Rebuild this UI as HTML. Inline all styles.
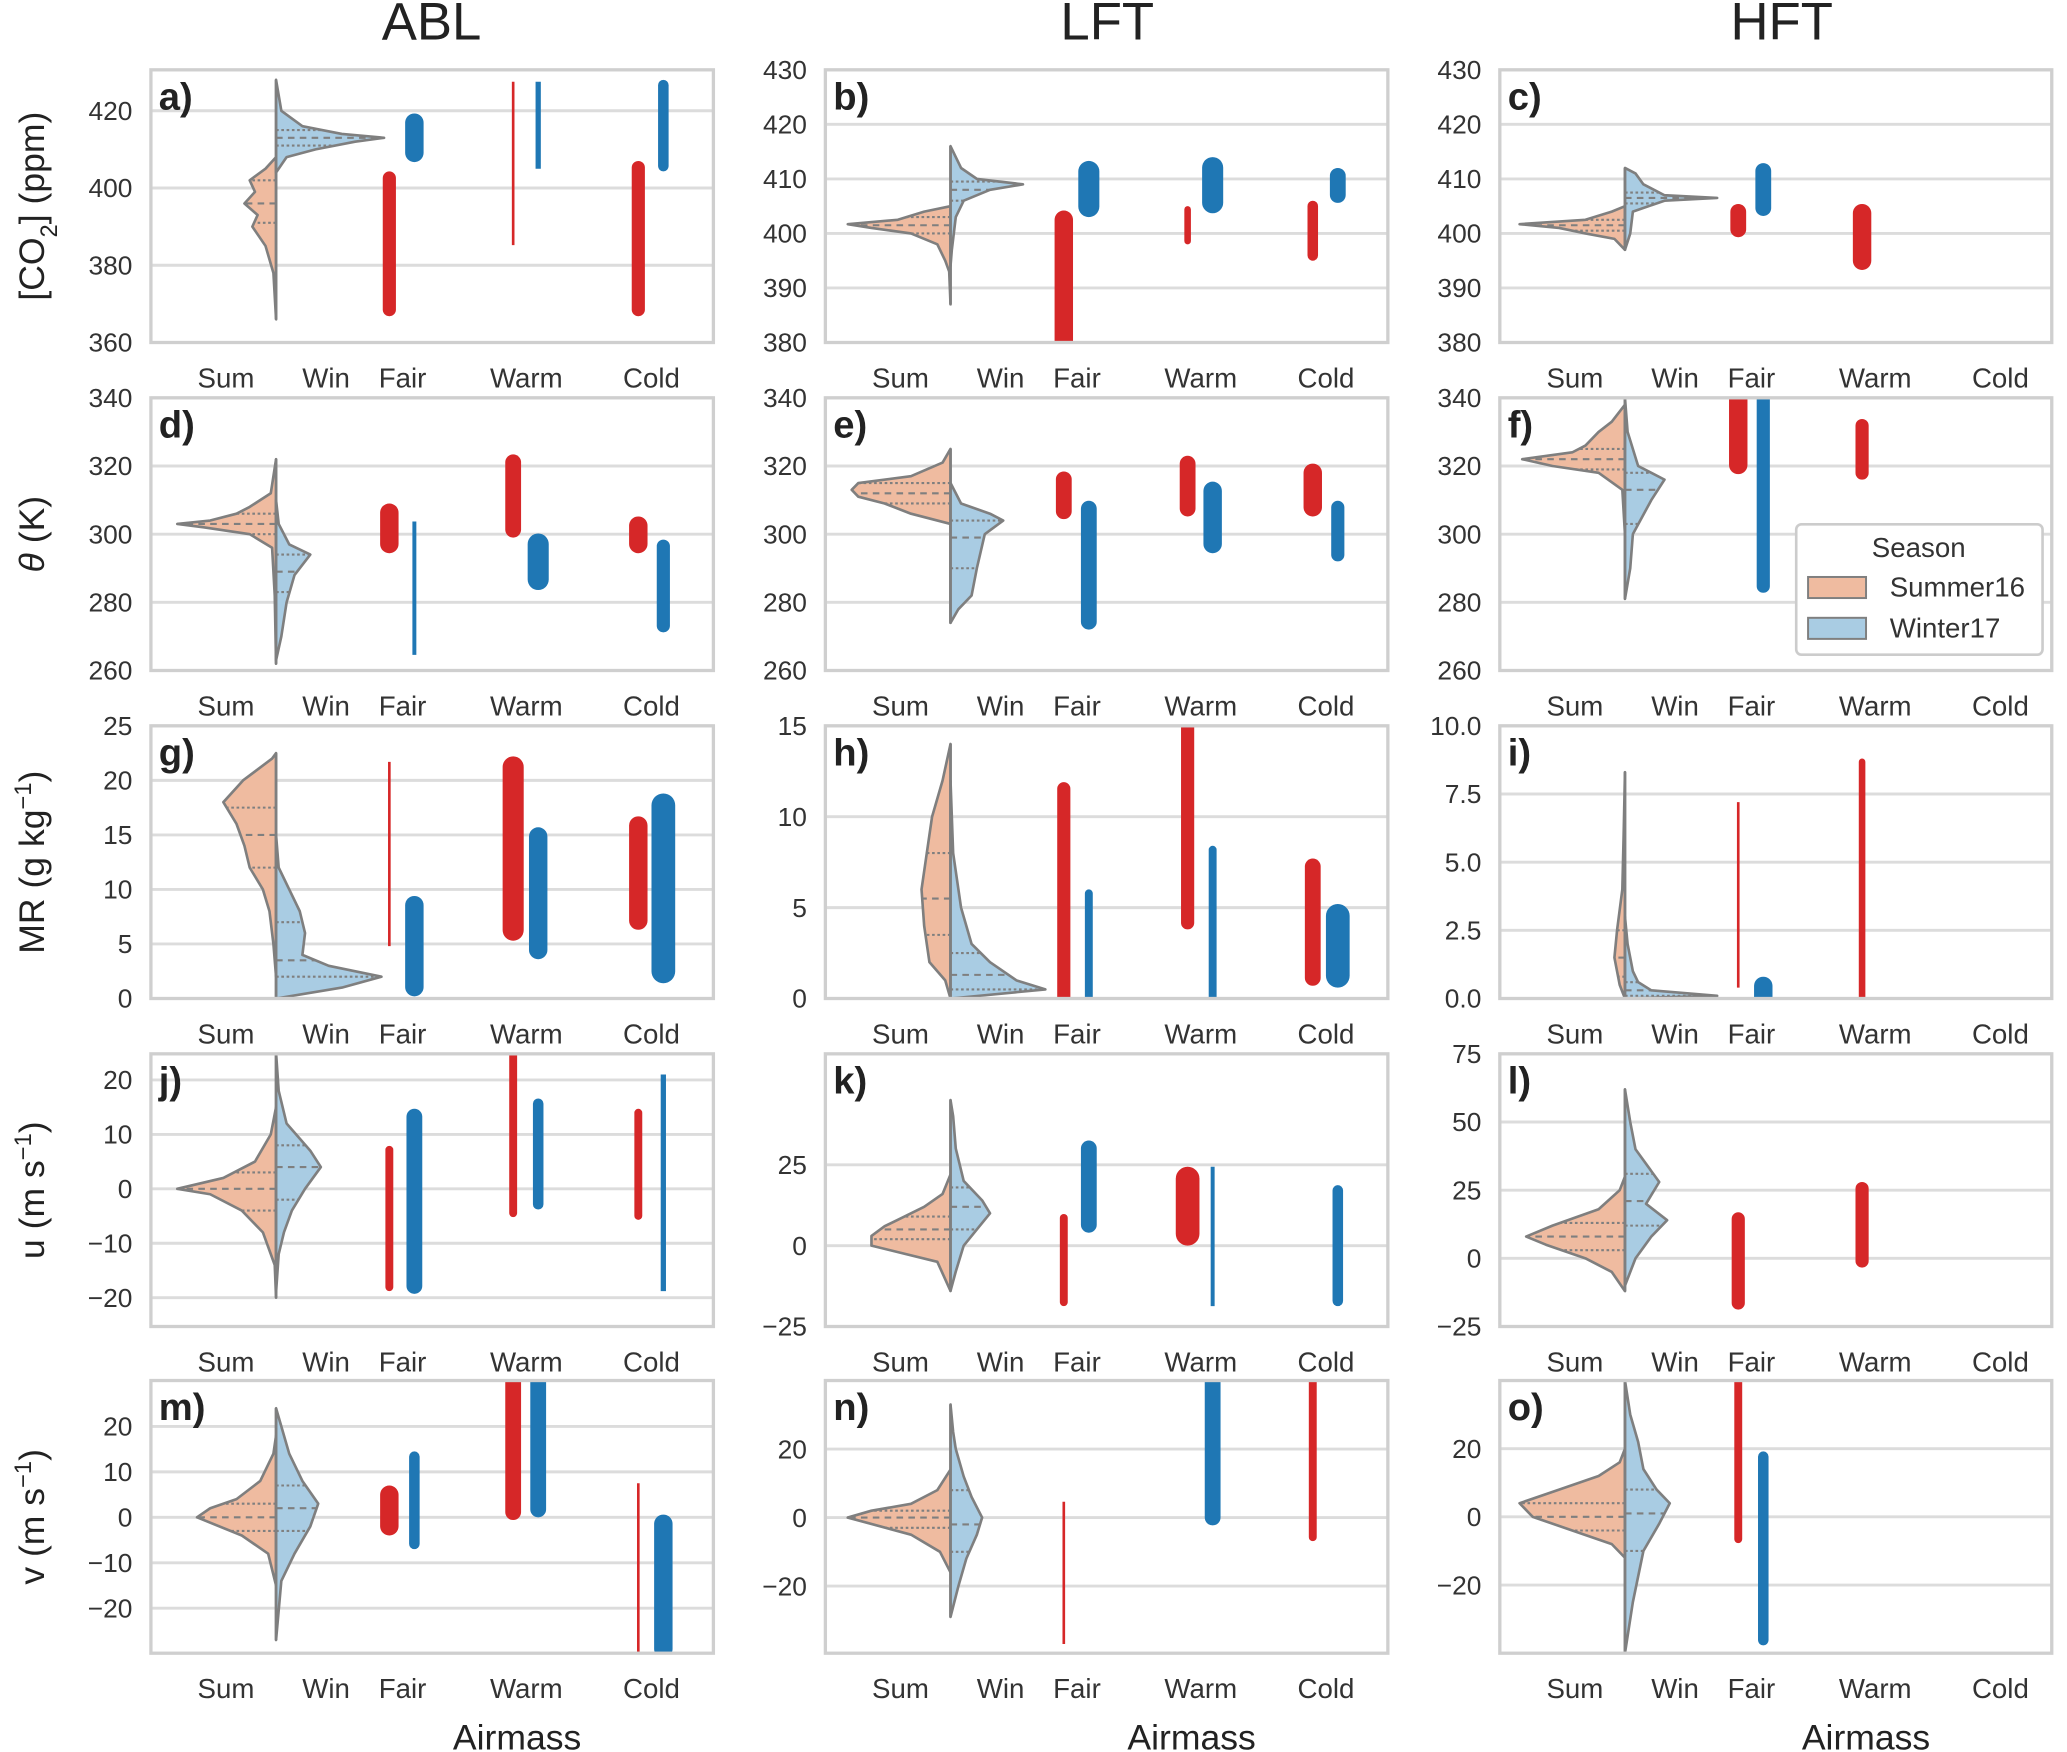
<!DOCTYPE html>
<html><head><meta charset="utf-8"><style>
html,body{margin:0;padding:0;background:#fff;}
svg{display:block;font-family:"Liberation Sans","DejaVu Sans",sans-serif;}
</style></head><body>
<svg id="fig" width="2067" height="1752" viewBox="0 0 1568 1330" xmlns="http://www.w3.org/2000/svg"></svg>
<script>
const categories = ["Sum","Win","Fair","Warm","Cold"];
const panelLetters = ["a","b","c","d","e","f","g","h","i","j","k","l","m","n","o"];
const yRanges = [[360,430.6],[380,430],[380,430],[260,340],[260,340],[260,340],[0,25],[0,15],[0,10],[-25.3,24.8],[-25,59.3],[-25,75],[-29.9,30.1],[-39.6,40],[-40,40]];
const yTicks = [[360,380,400,420],[380,390,400,410,420,430],[380,390,400,410,420,430],[260,280,300,320,340],[260,280,300,320,340],[260,280,300,320,340],[0,5,10,15,20,25],[0,5,10,15],[0,2.5,5,7.5,10],[-20,-10,0,10,20],[-25,0,25],[-25,0,25,50,75],[-20,-10,0,10,20],[-20,0,20],[-20,0,20]];
const tickDecimals = [0,0,0,0,0,0,0,0,1,0,0,0,0,0,0];
// bars: [category, season(0=Summer,1=Winter), low, high, linewidth]
const barsA = [["Fair",0,366.8,404.3,10],["Fair",1,406.7,419.3,14],["Warm",0,385.2,427.5,2],["Warm",1,405,427.5,4],["Cold",0,366.8,407,10],["Cold",1,404.3,428,8]];
const barsB = [["Fair",0,378,404.2,14],["Fair",1,403,413.3,16],["Warm",0,398,405,5],["Warm",1,403.7,414,16],["Cold",0,395,406,8],["Cold",1,405.6,412,12]];
const barsC = [["Fair",0,399.3,405.4,12],["Fair",1,403.2,412.9,12],["Warm",0,393.3,405.4,14]];
const barsD = [["Fair",0,294.4,309,14],["Fair",1,264.6,303.7,3],["Warm",0,299,323.4,12],["Warm",1,283.6,300.2,16],["Cold",0,294.4,305.2,14],["Cold",1,271.2,298.4,10]];
const barsE = [["Fair",0,304.4,318.4,12],["Fair",1,272,309.8,12],["Warm",0,305.2,323,12],["Warm",1,294.4,315.4,14],["Cold",0,305.2,320.7,14],["Cold",1,292,309.8,10]];
const barsF = [["Fair",0,317.6,342,14],["Fair",1,282.8,342,10],["Warm",0,316,333.8,10]];
const barsG = [["Fair",0,4.8,21.7,2],["Fair",1,0.2,9.4,14],["Warm",0,5.3,22.2,16],["Warm",1,3.6,15.7,14],["Cold",0,6.3,16.7,14],["Cold",1,1.4,18.8,18]];
const barsH = [["Fair",0,-1,11.9,10],["Fair",1,-1,6,6],["Warm",0,3.8,16,10],["Warm",1,-1,8.4,6],["Cold",0,0.7,7.7,12],["Cold",1,0.6,5.2,18]];
const barsI = [["Fair",0,0.4,7.2,2],["Fair",1,-1,0.8,14],["Warm",0,-1,8.8,5]];
const barsJ = [["Fair",0,-18.8,7.9,6],["Fair",1,-19.3,14.7,12],["Warm",0,-5.2,26,6],["Warm",1,-3.8,16.6,8],["Cold",0,-5.7,14.7,6],["Cold",1,-18.8,21,4]];
const barsK = [["Fair",0,-18.7,9.8,6],["Fair",1,4,32.5,12],["Warm",0,0,24.4,18],["Warm",1,-18.7,24.4,3],["Cold",1,-18.7,18.7,8]];
const barsL = [["Fair",0,-18.8,16.9,10],["Warm",0,-3.4,28,10]];
const barsM = [["Fair",0,-4,7,14],["Fair",1,-7,14.5,8],["Warm",0,-0.6,32,12],["Warm",1,0,32,12],["Cold",0,-31,7.5,2],["Cold",1,-31,0.6,14]];
const barsN = [["Fair",0,-36.9,4.6,2],["Warm",1,-2.3,42,12],["Cold",0,-6.9,42,6]];
const barsO = [["Fair",0,-7.7,42,6],["Fair",1,-37.7,19.2,8]];
const allBars = [barsA,barsB,barsC,barsD,barsE,barsF,barsG,barsH,barsI,barsJ,barsK,barsL,barsM,barsN,barsO];
// violins: [value, half-width]
const sumViolins = [
 [[366,0],[378,2],[385,8],[390,18],[393,14],[396,24],[399,16],[402,20],[405,8],[408,0]],
 [[387,0],[393,1],[395,4],[398,10],[400,30],[401,60],[401.7,78],[402.5,40],[404,20],[405,0]],
 [[397,0],[399,8],[400,30],[401,50],[401.7,80],[402.5,30],[404,10],[405,0]],
 [[262,0],[282,1],[296,3],[300,20],[302,55],[303,75],[304,50],[306,30],[308,20],[312,4],[322,0]],
 [[274,0],[303,0],[306,30],[309,50],[311,70],[313,75],[315,70],[317,30],[321,6],[325,0]],
 [[300,0],[313,2],[318,20],[320,55],[322,78],[324,40],[326,30],[330,20],[333,10],[338,0]],
 [[2,0],[5,2],[8,5],[10,10],[12,20],[14,24],[16,30],[18,40],[20,25],[22,3],[22.5,0]],
 [[0,0],[1,4],[2,16],[4,20],[6,22],[8,18],[10,14],[12,6],[14,0]],
 [[0,0],[0.5,4],[1.5,8],[2.5,6],[4,2],[6,1],[8.3,0]],
 [[-20,0],[-14,1],[-8,10],[-4,26],[-1,50],[0,75],[2,40],[5,16],[10,4],[15,0]],
 [[-14,0],[-5,10],[0,60],[3,60],[6,50],[8,40],[12,20],[16,6],[22,0]],
 [[-12,0],[-5,10],[0,30],[5,60],[8,75],[12,55],[18,20],[25,4],[30,0]],
 [[-15,0],[-8,6],[-4,26],[0,60],[2,50],[4,30],[8,12],[14,2],[18,0]],
 [[-16,0],[-10,8],[-5,30],[0,78],[2,60],[4,30],[8,10],[14,0]],
 [[-12,0],[-8,10],[-4,40],[0,70],[4,80],[8,50],[12,20],[16,4],[20,0]]
];
const winViolins = [
 [[404,0],[408,8],[410,30],[412,60],[413,82],[414,50],[416,20],[420,4],[428,0]],
 [[394,0],[397,1],[403,4],[406,10],[408,30],[409,55],[410,20],[412,8],[416,0]],
 [[397,0],[400,4],[404,6],[406,30],[406.5,70],[407,30],[409,14],[411,8],[412,0]],
 [[263,0],[270,4],[280,8],[288,14],[294,26],[297,10],[303,2],[310,0]],
 [[274,0],[278,6],[282,16],[290,20],[300,26],[304,40],[306,30],[309,8],[315,0]],
 [[281,0],[290,4],[300,6],[310,20],[316,30],[318,20],[320,10],[330,2],[340,0]],
 [[0,0],[1,50],[2,80],[3,40],[4,20],[6,22],[8,18],[10,10],[12,2],[15,0]],
 [[0,0],[0.5,72],[1,50],[2,30],[3,16],[5,8],[8,2],[12,0]],
 [[0,0],[0.1,70],[0.3,20],[0.6,10],[1,6],[2,2],[3,0]],
 [[-19,0],[-12,2],[-8,6],[-4,12],[0,22],[4,34],[7,26],[12,8],[18,2],[25,0]],
 [[-14,0],[-8,4],[0,10],[5,20],[10,30],[14,24],[20,10],[30,4],[40,2],[45,0]],
 [[-10,0],[0,8],[8,20],[14,32],[20,16],[28,26],[32,20],[40,8],[50,4],[62,0]],
 [[-27,0],[-14,4],[-8,14],[-2,26],[3,32],[8,20],[14,10],[20,4],[24,0]],
 [[-29,0],[-20,6],[-12,12],[-5,20],[0,24],[6,16],[12,10],[20,4],[25,2],[33,0]],
 [[-40,0],[-25,6],[-10,14],[-2,26],[4,34],[8,24],[14,14],[22,10],[30,4],[40,0]]
];
const sumQuartiles = [[391,396,402],[400,401.5,403],[400.5,401.5,402.5],[300,303,306],[309,312,315],[319,322,325],[12,15,17.5],[3.5,5.5,8],[0.8,1.5,2.5],[-4,0,3],[2,5,9],[3,8,13],[-3,0,3],[-3,0,2],[-4,0,4]];
const winQuartiles = [[411,413,415],[406,408,409.5],[405.5,406.5,407.5],[283,289,294],[290,299,304],[303,313,318],[2,3.5,7],[0.5,1.3,2.5],[0.1,0.3,0.6],[-2,4,8],[5,12,18],[12,21,31],[-3,2,7],[-10,-2,8],[-10,1,8]];
const colTitles = ["ABL","LFT","HFT"];
const rowLabels = ["[CO<tspan baseline-shift=\"sub\" font-size=\"18\">2</tspan>] (ppm)","<tspan font-style=\"italic\">θ</tspan> (K)","MR (g kg<tspan baseline-shift=\"super\" font-size=\"18\">−1</tspan>)","u (m s<tspan baseline-shift=\"super\" font-size=\"18\">−1</tspan>)","v (m s<tspan baseline-shift=\"super\" font-size=\"18\">−1</tspan>)"];

const NS="http://www.w3.org/2000/svg";
const svg=document.getElementById('fig');
function mk(tag,attrs,parent){const e=document.createElementNS(NS,tag);for(const k in attrs)e.setAttribute(k,attrs[k]);(parent||svg).appendChild(e);return e;}
const colLeft=[114,626,1138], colW=[427,427,419];
const rowTop=[53,302,551,800,1048], PH=207;
const catOff={Sum:57,Win:133,Fair:191,Warm:285,Cold:380};
const RED="#d62728", BLUE="#1f77b4", SUMC="#efbba0", WINC="#a9cce3";
const fmt=(v,d)=>{const s=Math.abs(v).toFixed(d);return (v<0?"−":"")+s;};

for(let c=0;c<3;c++){
  const t=mk('text',{x:[327,840,1352][c],y:30,'font-size':40,'text-anchor':'middle',fill:'#222'});
  
  
  t.textContent=colTitles[c];
  const xl=mk('text',{x:[392,904,1416][c],y:1328,'font-size':27,'text-anchor':'middle',fill:'#222'});
  
  
  xl.textContent='Airmass';
}
for(let r=0;r<5;r++){
  const cy=rowTop[r]+PH/2;
  const yl=mk('text',{x:0,y:0,'font-size':27,'text-anchor':'middle',fill:'#222',transform:`translate(33,${cy}) rotate(-90)`});
  
  
  yl.innerHTML=rowLabels[r];
}

for(let p=0;p<15;p++){
  const r=Math.floor(p/3), c=p%3;
  const L=colLeft[c], T=rowTop[r], W=colW[c], B=T+PH;
  const [y0,y1]=yRanges[p];
  const Y=v=>B-(v-y0)/(y1-y0)*PH;
  const X=cat=>L+catOff[cat];
  const g=mk('g',{});
  
  
  const cp=mk('clipPath',{id:'cp'+p},g);
  mk('rect',{x:L,y:T,width:W,height:PH},cp);
  yTicks[p].forEach(v=>{
    const y=Y(v);
    const gl=mk('line',{x1:L,x2:L+W,y1:y,y2:y,stroke:'#dcdcdc','stroke-width':2.2},g);
    
    
    const tl=mk('text',{x:L-14,y:y+7,'font-size':20,'text-anchor':'end',fill:'#333'},g);
    
    
    tl.textContent=fmt(v,tickDecimals[p]);
  });
  categories.forEach(cat=>{
    const tl=mk('text',{x:X(cat),y:B+34,'font-size':21,'text-anchor':'middle',fill:'#333'},g);
    
    
    tl.textContent=cat;
  });
  const inner=mk('g',{'clip-path':`url(#cp${p})`},g);
  const vc=L+95;
  [[sumViolins[p],-1,SUMC,sumQuartiles[p],'violin-summer'],[winViolins[p],1,WINC,winQuartiles[p],'violin-winter']].forEach(([pts,dir,col,q,nm])=>{
    let d=`M${vc},${Y(pts[0][0])}`;
    pts.forEach(([v,w])=>{d+=` L${vc+dir*w},${Y(v)}`;});
    d+=` L${vc},${Y(pts[pts.length-1][0])} Z`;
    const vp=mk('path',{d:d,fill:col,stroke:'#7f7f7f','stroke-width':2,'stroke-linejoin':'round'},inner);
    
    
    q.forEach((qv,i)=>{
      let w=0;
      for(let k=0;k<pts.length-1;k++){const [a,wa]=pts[k],[b,wb]=pts[k+1];if(qv>=a&&qv<=b){w=wa+(wb-wa)*(qv-a)/((b-a)||1);break;}}
      const ql=mk('line',{x1:vc,x2:vc+dir*w,y1:Y(qv),y2:Y(qv),stroke:'#7f7f7f','stroke-width':1.6,'stroke-dasharray':i==1?'5,4':'2,2'},inner);
      
      
    });
  });
  const allv=sumViolins[p].concat(winViolins[p]).map(a=>a[0]);
  const cl=mk('line',{x1:vc,x2:vc,y1:Y(Math.max(...allv)),y2:Y(Math.min(...allv)),stroke:'#7f7f7f','stroke-width':2},inner);
  
  
  allBars[p].forEach(([cat,s,lo,hi,w])=>{
    const x=X(cat)+(s==0?-10:9);
    const ya=Y(lo), yb=Y(hi);
    const bl=mk('line',{x1:x,x2:x,y1:ya-(w>4?w/2:0),y2:yb+(w>4?w/2:0),stroke:s==0?RED:BLUE,'stroke-width':w,'stroke-linecap':w>4?'round':'butt'},inner);
    
    
  });
  const fr=mk('rect',{x:L,y:T,width:W,height:PH,fill:'none',stroke:'#cfcfcf','stroke-width':2.5},g);
  
  
  const lt=mk('text',{x:L+6,y:T+30,'font-size':29,'font-weight':'bold',fill:'#222'},g);
  
  
  lt.textContent=panelLetters[p]+')';
}
const lg=mk('g',{});


mk('rect',{x:1363,y:398,width:187,height:99,rx:4,fill:'#fff',stroke:'#cccccc','stroke-width':2},lg);
const lt=mk('text',{x:1456,y:423,'font-size':21,'text-anchor':'middle',fill:'#333'},lg);


lt.textContent='Season';
[['Summer16',SUMC,438],['Winter17',WINC,469]].forEach(([n,col,y])=>{
  const pr=mk('rect',{x:1372,y:y,width:44,height:16,fill:col,stroke:'#7f7f7f','stroke-width':1.5},lg);
  
  
  const tx=mk('text',{x:1434,y:y+15,'font-size':21,fill:'#333'},lg);
  
  
  tx.textContent=n;
});
</script>
</body></html>
